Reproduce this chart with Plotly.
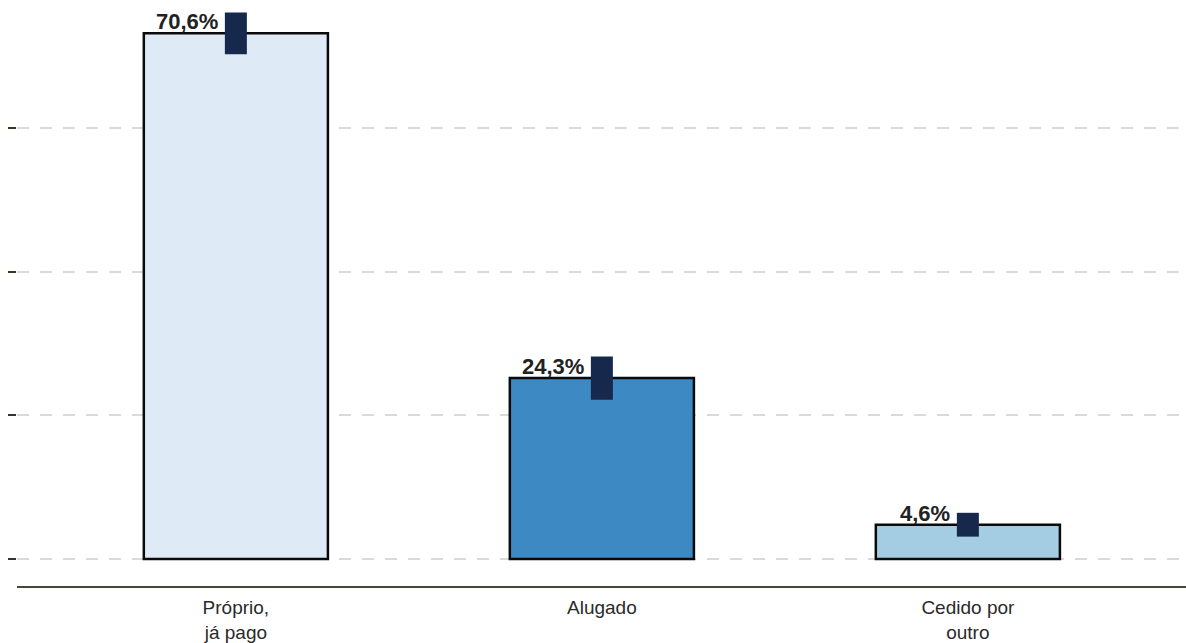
import plotly.graph_objects as go

categories = ["Próprio,<br>já pago", "Alugado", "Cedido por<br>outro"]
values = [70.6, 24.3, 4.6]
errors = [2.8, 2.9, 1.6]
labels = ["70,6%", "24,3%", "4,6%"]
bar_colors = ["#DEEBF7", "#3D89C3", "#A4CDE3"]
grid_vals = [0, 19.3, 38.6, 57.9]

fig = go.Figure()
fig.add_trace(go.Bar(
    x=categories, y=values,
    width=0.503,
    marker=dict(color=bar_colors, line=dict(color="#0a0a0a", width=2.5)),
    error_y=dict(type="data", array=errors, visible=True, thickness=22, width=0, color="#16284C"),
    hoverinfo="skip",
))

for c, v, t in zip(categories, values, labels):
    fig.add_annotation(x=c, y=v, text="<b>" + t + "</b>", showarrow=False,
                       xanchor="right", yanchor="bottom", xshift=-16, yshift=-3,
                       font=dict(family="Liberation Sans, Arial", size=22, color="#222222"))

fig.update_layout(
    width=1186, height=643,
    margin=dict(l=17, r=0, t=0, b=57),
    paper_bgcolor="white", plot_bgcolor="white",
    showlegend=False,
    font=dict(family="Liberation Sans, Arial", size=20, color="#333333"),
)
fig.update_xaxes(range=[-0.598, 2.596], showline=True, linecolor="#4B4538", linewidth=2,
                 ticks="", showgrid=False, tickfont=dict(size=19, color="#2a2a2a"),
                 ticklabelstandoff=3, automargin=False)
fig.update_yaxes(range=[-3.63, 75.07], tickvals=grid_vals, showticklabels=False,
                 ticks="outside", ticklen=8, tickcolor="#3a3428", tickwidth=2,
                 showgrid=True, gridcolor="#DADADA", gridwidth=2, griddash="12px,11px",
                 zeroline=False, showline=False, automargin=False)

fig.write_html("out.html", config={"displayModeBar": False},
               post_script="document.body.style.margin='0px';document.body.style.overflow='hidden';")
